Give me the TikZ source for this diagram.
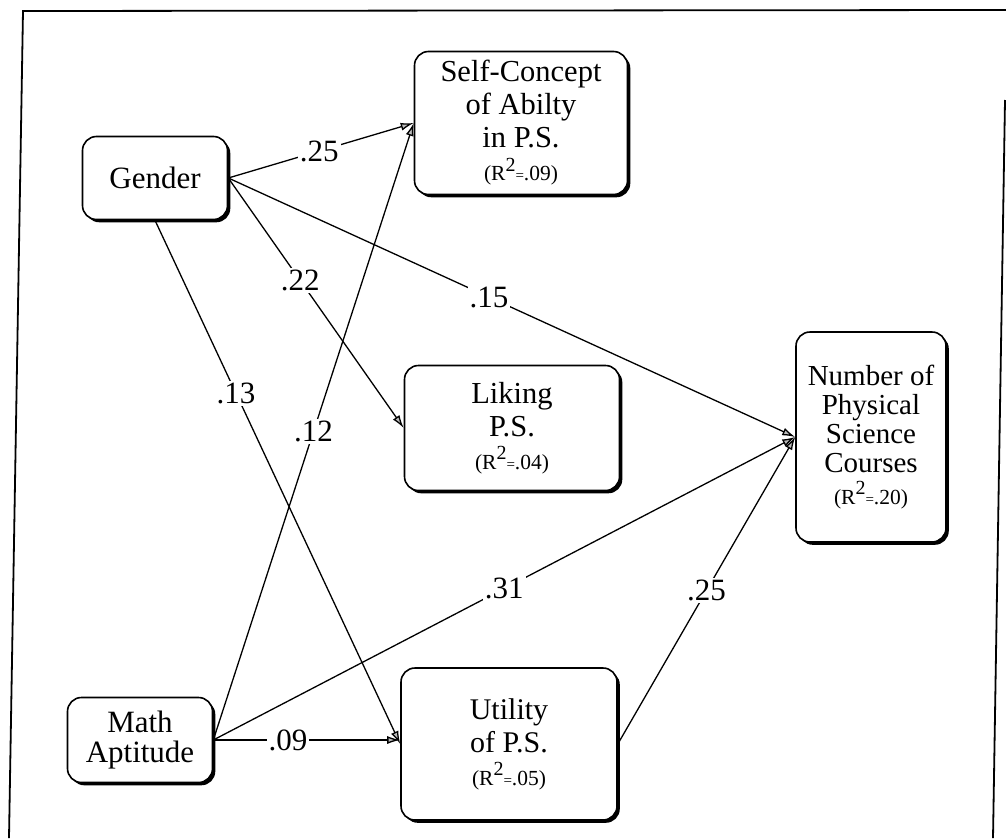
\documentclass[tikz,border=0pt]{standalone}
\usepackage{fontspec}
\setmainfont{Liberation Serif}
\usetikzlibrary{arrows.meta,shadows}

% explained variance line under a variable name
\newcommand\rsquared[1]{{\fontsize{21.5}{21.5}\selectfont(R\raisebox{0.45em}{\fontsize{20}{20}\selectfont 2}{\fontsize{15}{15}\selectfont=}#1)}}

\tikzset{
  varbox/.style={draw, line width=1.6pt, rounded corners=14pt, fill=white,
    align=center, inner sep=0pt,
    general shadow={fill=black, shadow xshift=2.8pt, shadow yshift=-2.8pt},
    font=\fontsize{30.5}{33}\selectfont},
  effect/.style={line width=1.3pt, -{Latex[length=13pt,width=8pt,fill=gray!55]}},
  coef/.style={fill=white, inner sep=2pt, font=\fontsize{31}{31}\selectfont},
  frameline/.style={line width=1.8pt}
}

\begin{document}
\begin{tikzpicture}[x=1pt,y=-1pt]
\useasboundingbox (0,0) rectangle (1006,838);

% scanned page frame
\draw[frameline] (9,838) -- (23,11) -- (1006,10);
\draw[frameline] (993,838) -- (1005,100);

% variables
\node[varbox, minimum width=145pt, minimum height=83pt, font=\fontsize{31}{33}\selectfont] (gender) at (155,178) {Gender};
\node[varbox, minimum width=145pt, minimum height=85pt, font=\fontsize{31}{30}\selectfont] (math) at (140,740) {Math\\Aptitude};
\node[varbox, minimum width=213pt, minimum height=143pt] (selfc) at (521,123)
  {Self-Concept\\of Abilty\\in P.S.\\\rsquared{.09}};
\node[varbox, minimum width=215pt, minimum height=125pt] (liking) at (512,428)
  {Liking\\P.S.\\\rsquared{.04}};
\node[varbox, minimum width=216pt, minimum height=152pt, font=\fontsize{30}{33}\selectfont] (utility) at (509,744)
  {Utility\\of P.S.\\\rsquared{.05}};
\node[varbox, minimum width=150pt, minimum height=210pt, font=\fontsize{29}{29}\selectfont] (courses) at (871,437)
  {Number of\\Physical\\Science\\Courses\\[3pt]\rsquared{.20}};

% path coefficients
\draw[effect] (gender.east) -- node[coef, pos=0.49] {.25} (selfc.west);
\draw[effect] (gender.east) -- node[coef, pos=0.41] {.22} (liking.west);
\draw[effect] (gender.east) -- node[coef, pos=0.46] {.15} (courses.west);
\draw[effect] (gender.south) -- node[coef, pos=0.33] {.13} (utility.west);
\draw[effect] (math.east) -- node[coef, pos=0.5] {.12} (selfc.west);
\draw[effect] (math.east) -- node[coef, pos=0.5] {.31} (courses.west);
\draw[effect] (math.east) -- node[coef, pos=0.4] {.09} (math.east -| utility.west);
\draw[effect] (utility.east) -- node[coef, pos=0.5] {.25} (courses.west);
\end{tikzpicture}
\end{document}
